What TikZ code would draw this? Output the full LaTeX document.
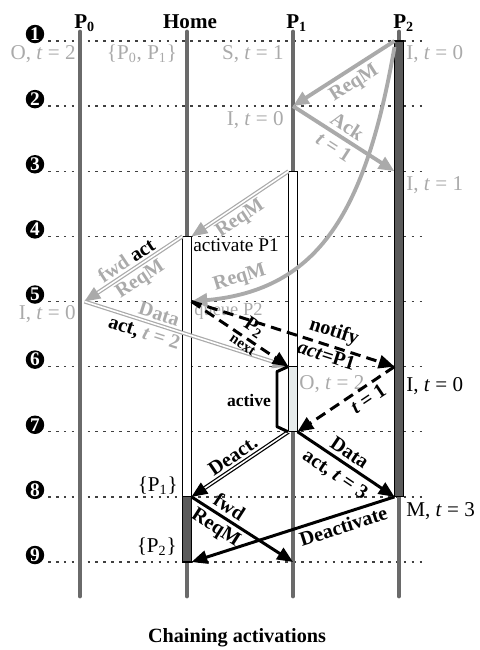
\documentclass[tikz,border=0pt]{standalone}
\usepackage{fontspec}
\setmainfont{Liberation Serif}
\usepackage{xcolor}
\definecolor{lifeline}{HTML}{6A6A6A}
\definecolor{boxdark}{HTML}{5A5A5A}
\definecolor{msggray}{HTML}{AAAAAA}
\definecolor{boxlight}{HTML}{E6EBEB}
\usepackage{tikz}
\usetikzlibrary{arrows.meta, calc}

\newcommand{\tval}[1]{\textit{t} = #1}

\begin{document}
\begin{tikzpicture}[x=0.02cm, y=-0.02cm, >={Triangle[length=9pt, width=7.5pt]},
  font=\fontsize{12}{14}\selectfont,
  life/.style={line width=2.8pt, lifeline, line cap=round},
  rowline/.style={line width=0.8pt, black!75, dash pattern=on 1.5pt off 3pt},
  num/.style={circle, fill=black, text=white, inner sep=0pt, minimum size=0.37cm, font=\fontsize{11}{11}\selectfont\bfseries},
  head/.style={anchor=base west, inner sep=0pt, font=\fontsize{12}{14}\selectfont\bfseries},
  state/.style={inner sep=0pt, text=msggray},
  actbox/.style={draw=black, line width=0.6pt},
  graymsg/.style={->, msggray, line width=2.2pt},
  graydbl/.style={->, msggray, line width=0.7pt, double=white, double distance=0.9pt},
  blackdbl/.style={->, black, line width=0.7pt, double=white, double distance=0.9pt},
  blackmsg/.style={->, line width=1.7pt},
  dashmsg/.style={->, line width=1.7pt, dash pattern=on 6pt off 3.5pt},
  msglbl/.style={sloped, inner sep=2pt, text=black, font=\fontsize{11.5}{13}\selectfont\bfseries},
  graylbl/.style={msglbl, text=msggray}]
  \useasboundingbox (0,0) rectangle (480,650);

  % rows
  \foreach \r in {1,...,9} {
    \draw[rowline] (48, {41+(\r-1)*65.125}) -- (425, {41+(\r-1)*65.125});
    \node[num] (n\r) at (35, {34+(\r-1)*65.125}) {\r};
  }

  % lifelines
  \foreach \n/\x in {p0/80, h/187, p1/293, p2/399} {
    \foreach \r in {1,...,9} {
      \coordinate (\n-\r) at (\x, {41+(\r-1)*65.125});
      \coordinate (\n-\r-l) at (\x-4.5, {41+(\r-1)*65.125});
      \coordinate (\n-\r-r) at (\x+4.5, {41+(\r-1)*65.125});
    }
    \draw[life] (\x,32) -- (\x,596);
  }
  \node[head] (hp0) at (74,28) {P\textsubscript{0}};
  \node[head, anchor=base] (hhome) at (190,28) {Home};
  \node[head] (hp1) at (286,28) {P\textsubscript{1}};
  \node[head] (hp2) at (393,28) {P\textsubscript{2}};

  % activation boxes
  \filldraw[actbox, fill=boxdark] (p2-1-l) rectangle (p2-8-r);
  \filldraw[actbox, fill=white] (p1-3-l) rectangle (p1-6-r);
  \filldraw[actbox, fill=boxlight] (p1-6-l) rectangle (p1-7-r);
  \filldraw[actbox, fill=white] (h-4-l) rectangle (h-8-r);
  \filldraw[actbox, fill=boxdark] (h-8-l) rectangle (h-9-r);

  % states
  \node[state, anchor=east] (s1a) at (76,54) {O, \tval{2}};
  \node[state] (s1b) at (142,54) {\{P\textsubscript{0}, P\textsubscript{1}\}};
  \node[state, anchor=east] (s1c) at (284,54) {S, \tval{1}};
  \node[state, anchor=west] (s1d) at (406,54) {I, \tval{0}};
  \node[state, anchor=east] (s2) at (284,120) {I, \tval{0}};
  \node[state, anchor=west] (s3) at (406,185) {I, \tval{1}};
  \node[inner sep=0pt, anchor=west, font=\fontsize{11}{13}\selectfont] (s4) at (193,245) {activate P1};
  \node[state, anchor=east] (s5) at (76,314) {I, \tval{0}};
  \node[state, anchor=west, font=\fontsize{10.5}{12}\selectfont] (s5q) at (194,311) {queue P2};
  \node[state, anchor=west] (s6a) at (299,384) {O, \tval{2}};
  \node[inner sep=0pt, anchor=west] (s6b) at (406,386) {I, \tval{0}};
  \node[inner sep=0pt, anchor=west] (s8a) at (406,511) {M, \tval{3}};
  \node[inner sep=0pt, anchor=east] (s8b) at (178,486) {\{P\textsubscript{1}\}};
  \node[inner sep=0pt, anchor=east] (s9) at (177,547) {\{P\textsubscript{2}\}};

  % messages
  \draw[graymsg] (p2-1-l) -- node[graylbl, below, pos=0.47] (m1) {ReqM} (p1-2);
  \draw[graymsg] (p1-2) -- node[graylbl, above, pos=0.47] (m2a) {Ack}
    node[graylbl, below, pos=0.47] (m2b) {\tval{1}} (p2-3-l);
  \draw[graymsg] ($(p2-1-l)+(0,6)$) .. controls (366,210) and (320,290) ..
    node[graylbl, above, pos=0.85] (m3) {ReqM} (h-5-r);
  \draw[graydbl] (p1-3-l) -- node[graylbl, below, pos=0.57] (m4) {ReqM} (h-4-r);
  \draw[graydbl] (h-4-l) -- node[msglbl, above, pos=0.51] (m5a) {\textcolor{msggray}{fwd} act}
    node[graylbl, below, pos=0.5] (m5b) {ReqM} (p0-5-r);
  \draw[graydbl] (p0-5-r) -- node[graylbl, above, pos=0.35] (m6a) {Data}
    node[msglbl, below, pos=0.31] (m6b) {act, \textcolor{msggray}{\tval{2}}} (p1-6-l);
  \draw[dashmsg] (h-5-r) -- node[msglbl, above, pos=0.57] (m7a) {P\textsubscript{2}}
    node[msglbl, below, pos=0.57, inner sep=1pt, font=\fontsize{8.5}{10}\selectfont\bfseries] (m7b) {next} (p1-6-l);
  \draw[dashmsg] (h-5-r) -- node[msglbl, above, pos=0.68] (m8a) {notify}
    node[msglbl, below, pos=0.68, inner sep=1pt] (m8b) {\textit{act}=P1} (p2-6-l);
  \draw[dashmsg] (p2-6-l) -- node[msglbl, below, pos=0.34] (m9) {\tval{1}} (p1-7-r);
  \draw[blackmsg] (p1-7-r) -- node[msglbl, above, pos=0.47] (m10a) {Data}
    node[msglbl, below, pos=0.47, inner sep=3pt] (m10b) {act, \tval{3}} (p2-8-l);
  \draw[blackdbl] (p1-7-l) -- node[msglbl, above, pos=0.51] (m11) {Deact.} (h-8-r);
  \draw[blackmsg] (h-8-r) -- node[msglbl, above, pos=0.31] (m12a) {fwd}
    node[msglbl, below, pos=0.31] (m12b) {ReqM} (p1-9);
  \draw[blackmsg] (p2-8-l) -- node[msglbl, below, pos=0.27] (m13) {Deactivate} (h-9-r);

  % active period of P1
  \draw[line width=1.7pt, line join=round] ($(p1-6-l)+(-0.5,0)$) -- ++(-11,5) -- ++(0,55) -- ($(p1-7-l)+(-0.5,0)$);
  \node[font=\fontsize{10}{12}\selectfont\bfseries] (act) at (249,400) {active};

  \node[font=\fontsize{11.5}{13}\selectfont\bfseries, anchor=base] (caption) at (237,642) {Chaining activations};
\end{tikzpicture}
\end{document}
